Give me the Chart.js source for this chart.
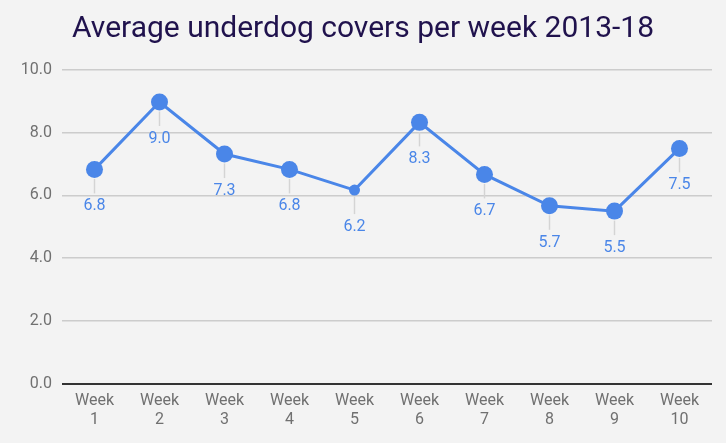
<!DOCTYPE html>
<html>
<head>
<meta charset="utf-8">
<script src="https://cdn.jsdelivr.net/npm/chart.js@4"></script>
<style>
  html, body { margin: 0; padding: 0; background: #f3f3f3; }
  #wrap { width: 726px; height: 443px; position: relative; }
</style>
</head>
<body>
<div id="wrap"><canvas id="chart"></canvas></div>
<script>
const weeks = ["Week 1", "Week 2", "Week 3", "Week 4", "Week 5", "Week 6", "Week 7", "Week 8", "Week 9", "Week 10"];
const avgCovers = [6.83, 8.98, 7.32, 6.83, 6.17, 8.33, 6.67, 5.67, 5.5, 7.5];
const yTicks = [0, 2, 4, 6, 8, 10];

const BLUE = "#4a86e8";

// labels under each point with a small grey leader line
const pointLabels = {
  id: "pointLabels",
  afterDatasetsDraw(chart) {
    const ctx = chart.ctx;
    const meta = chart.getDatasetMeta(0);
    ctx.save();
    meta.data.forEach((pt, i) => {
      const r = pt.options.radius;
      ctx.strokeStyle = "#d4d4d4";
      ctx.lineWidth = 1.5;
      ctx.beginPath();
      ctx.moveTo(pt.x, pt.y + r + 1);
      ctx.lineTo(pt.x, pt.y + 24);
      ctx.stroke();
      ctx.fillStyle = BLUE;
      ctx.font = "16px Roboto";
      ctx.textAlign = "center";
      ctx.textBaseline = "middle";
      ctx.fillText(avgCovers[i].toFixed(1), pt.x, pt.y + 37);
    });
    ctx.restore();
  }
};

new Chart(document.getElementById("chart"), {
  type: "line",
  data: {
    labels: weeks.map(w => w.split(" ")),
    datasets: [{
      data: avgCovers,
      borderColor: BLUE,
      backgroundColor: BLUE,
      borderWidth: 3,
      pointRadius: c => c.dataIndex === 4 ? 5.5 : 8.5,
      pointHoverRadius: c => c.dataIndex === 4 ? 5.5 : 8.5,
      pointBorderWidth: 0,
      tension: 0
    }]
  },
  options: {
    responsive: true,
    maintainAspectRatio: false,
    animation: false,
    layout: { padding: { left: 14, right: 14, top: 0, bottom: 13 } },
    plugins: {
      legend: { display: false },
      tooltip: { enabled: false },
      title: {
        display: true,
        text: "Average underdog covers per week 2013-18",
        color: "#20124d",
        font: { family: "Roboto", size: 30, weight: "normal" },
        padding: { top: 11, bottom: 23 }
      }
    },
    scales: {
      x: {
        offset: true,
        grid: { display: false },
        border: { display: false },
        ticks: {
          color: "#707070",
          font: { family: "Roboto", size: 16, lineHeight: 1.2 },
          maxRotation: 0,
          padding: 0
        }
      },
      y: {
        min: 0,
        max: 10,
        afterFit: s => { s.width = 48; },
        afterBuildTicks: s => { s.ticks = yTicks.map(v => ({ value: v })); },
        border: { display: false },
        grid: {
          drawTicks: false,
          color: c => c.tick.value === 0 ? "#333333" : "#cccccc",
          lineWidth: c => c.tick.value === 0 ? 2 : 1.5
        },
        ticks: {
          color: "#707070",
          font: { family: "Roboto", size: 16 },
          padding: 10,
          callback: v => v.toFixed(1)
        }
      }
    }
  },
  plugins: [pointLabels]
});
</script>
</body>
</html>
